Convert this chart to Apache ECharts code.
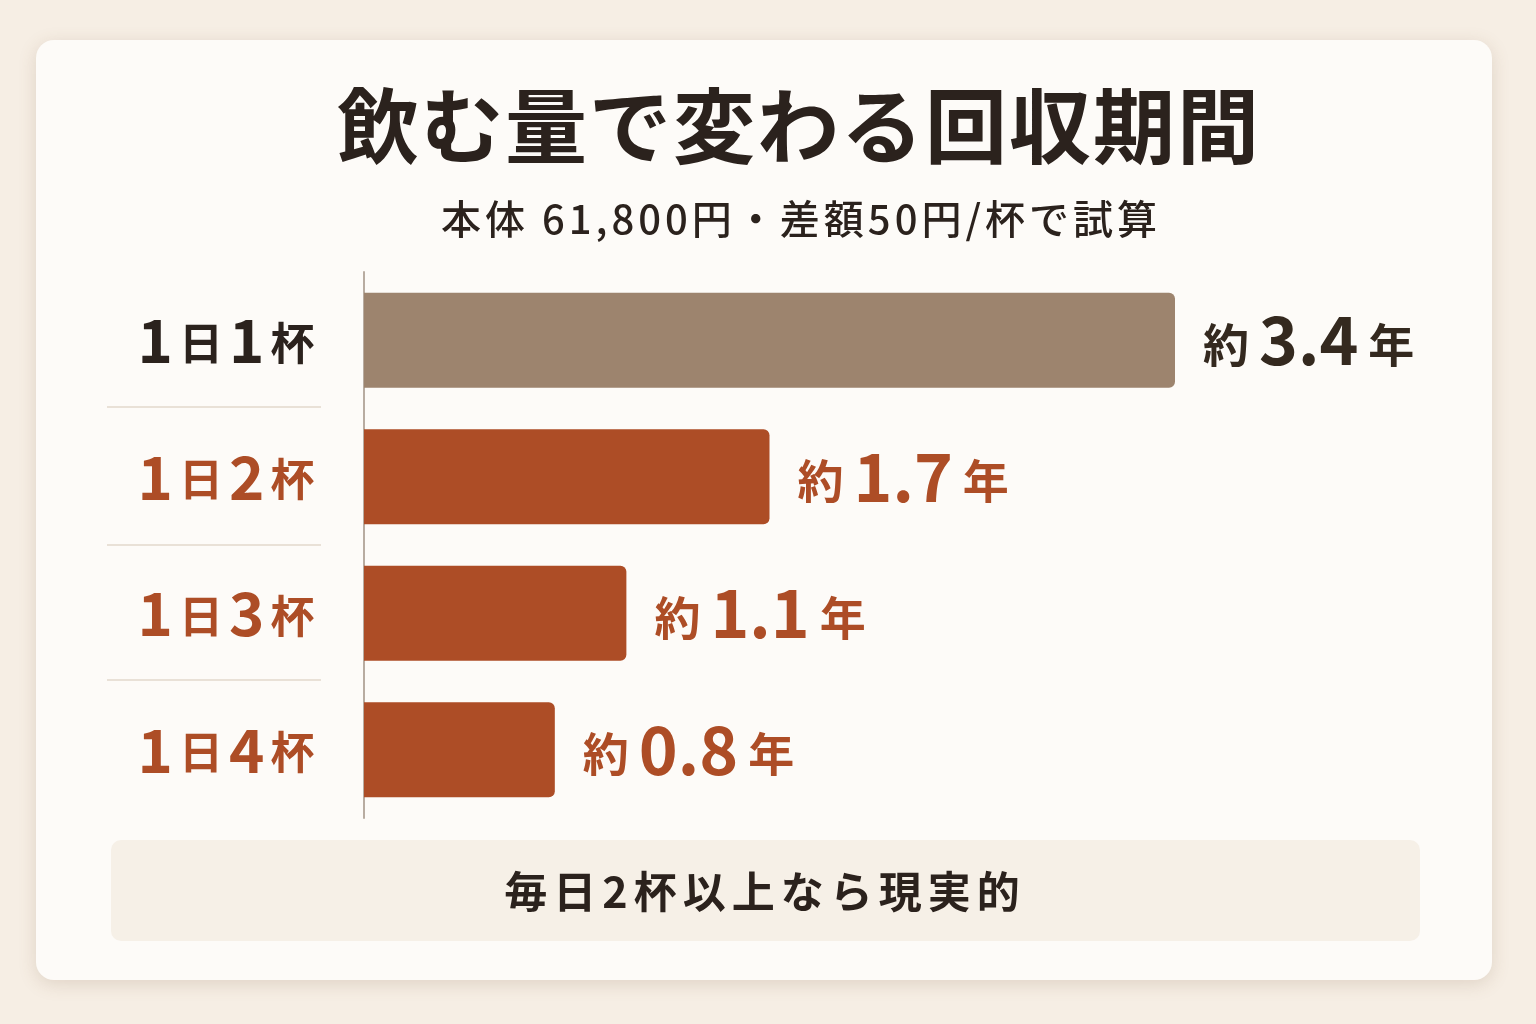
<!DOCTYPE html>
<html><head><meta charset="utf-8">
<script src="https://cdn.jsdelivr.net/npm/echarts@6/dist/echarts.min.js"></script>
<style>html,body{margin:0;padding:0;background:#f6eee4;}#c{width:1536px;height:1024px;}</style>
</head><body><div id="c"></div>
<script>
const categories = ['1日1杯', '1日2杯', '1日3杯', '1日4杯'];
const paybackYears = [3.4, 1.7, 1.1, 0.8];
const titleText = '飲む量で変わる回収期間';
const subtitleText = '本体 61,800円・差額50円/杯で試算';
const noteText = '毎日2杯以上なら現実的';

const FONT = '"Noto Sans CJK JP", "Noto Sans", sans-serif';
const DARK = '#2b221d';
const RUST = '#ad4d26';
const TAUPE = '#9d846e';

function spaced(text, style) {
  return text.split('').map(c => c === ' ' ? `{${style}| }` : `{${style}|${c}}`).join('');
}

const chart = echarts.init(document.getElementById('c'), null, {renderer: 'canvas'});

function catFormatter(v, i) {
  const m = v.match(/^(\d)日(\d)杯$/);
  const s = i === 0 ? 'd' : 'r';
  return `{${s}n|${m[1]}}{${s}k|日}{${s}n|${m[2]}}{${s}k|杯}`;
}
const catRich = {};
[['d', DARK], ['r', RUST]].forEach(([k, c]) => {
  catRich[k + 'n'] = {fontFamily: FONT, fontWeight: 'bold', fontSize: 60, color: c, padding: [0, 3, 0, 3]};
  catRich[k + 'k'] = {fontFamily: FONT, fontWeight: 'bold', fontSize: 44, color: c, padding: [6, 3, 0, 3]};
});

const valRich = {};
[['d', '#34291f'], ['r', RUST]].forEach(([k, c]) => {
  valRich[k + 'p'] = {fontFamily: FONT, fontWeight: 'bold', fontSize: 46, color: c, padding: [8, 6, 0, 0]};
  valRich[k + 'n'] = {fontFamily: FONT, fontWeight: 'bold', fontSize: 66, color: c, padding: [0, 10, 0, 4]};
});

chart.setOption({
  backgroundColor: '#f6eee4',
  animation: false,
  graphic: [
    {type: 'rect', z: -10, shape: {x: 36, y: 40, width: 1456, height: 940, r: 18},
     style: {fill: '#fdfbf8', shadowBlur: 18, shadowColor: 'rgba(120,90,60,0.18)', shadowOffsetY: 4}},
    {type: 'rect', z: -5, shape: {x: 111, y: 840, width: 1309, height: 101, r: 10},
     style: {fill: '#f6f0e7'}},
    {type: 'text', z: 5, x: 762, y: 892,
     style: {text: spaced(noteText, 'n'), align: 'center', verticalAlign: 'middle',
       rich: {n: {fontFamily: FONT, fontSize: 43, fontWeight: 'bold', fill: DARK, padding: [0, 3, 0, 3]}}}},
    {type: 'line', z: -4, shape: {x1: 107, y1: 407, x2: 321, y2: 407}, style: {stroke: '#e9e1d7', lineWidth: 2}},
    {type: 'line', z: -4, shape: {x1: 107, y1: 545, x2: 321, y2: 545}, style: {stroke: '#e9e1d7', lineWidth: 2}},
    {type: 'line', z: -4, shape: {x1: 107, y1: 680, x2: 321, y2: 680}, style: {stroke: '#e9e1d7', lineWidth: 2}},
    {type: 'text', z: 5, x: 798, y: 126,
     style: {text: spaced(titleText, 't'), align: 'center', verticalAlign: 'middle',
       rich: {t: {fontFamily: FONT, fontSize: 82, fontWeight: 'bold', fill: DARK, padding: [0, 1, 0, 1]}}}},
    {type: 'text', z: 5, x: 799, y: 219,
     style: {text: spaced(subtitleText, 's'), align: 'center', verticalAlign: 'middle',
       rich: {s: {fontFamily: FONT, fontSize: 40, fontWeight: 500, fill: DARK, padding: [0, 2, 0, 2]}}}}
  ],
  grid: {left: 364, right: 361, top: 272, bottom: 206, containLabel: false},
  xAxis: {type: 'value', min: 0, max: 3.4, show: false},
  yAxis: {
    type: 'category', data: categories, inverse: true,
    axisLine: {show: true, lineStyle: {color: '#b8aca1', width: 2}},
    axisTick: {show: false},
    splitLine: {show: false},
    axisLabel: {align: 'center', margin: 138, formatter: catFormatter, rich: catRich}
  },
  series: [{
    type: 'bar', data: paybackYears.map((v, i) => ({
      value: v,
      itemStyle: {color: i === 0 ? TAUPE : RUST}
    })),
    barWidth: 95,
    itemStyle: {borderRadius: [0, 6, 6, 0]},
    label: {
      show: true, position: 'right', distance: 28,
      formatter: p => {
        const s = p.dataIndex === 0 ? 'd' : 'r';
        return `{${s}p|約}{${s}n|${p.value.toFixed(1)}}{${s}p|年}`;
      },
      rich: valRich
    }
  }]
});
</script></body></html>
